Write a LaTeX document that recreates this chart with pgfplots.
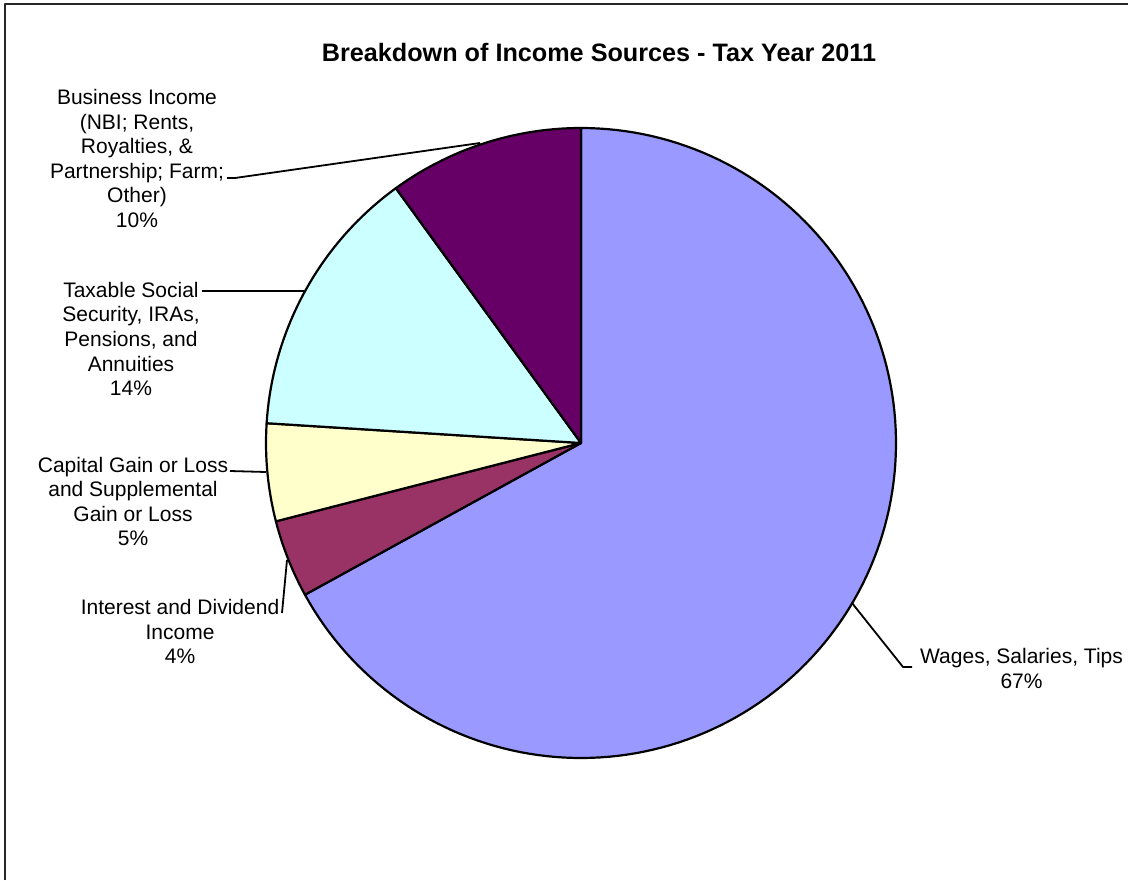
\documentclass[border=0pt]{standalone}
\usepackage{pgfplots}
\pgfplotsset{compat=1.18}
\usepackage{fontspec}
\setmainfont{Liberation Sans}
\definecolor{cWages}{HTML}{9999FF}
\definecolor{cInterest}{HTML}{993366}
\definecolor{cCapital}{HTML}{FFFFCC}
\definecolor{cSocial}{HTML}{CCFFFF}
\definecolor{cBusiness}{HTML}{660066}
% shares in percent
\def\sWages{67}
\def\sInterest{4}
\def\sCapital{5}
\def\sSocial{14}
\def\sBusiness{10}
\def\cx{581}
\def\cy{437}
\def\pieR{315}
\begin{document}
\begin{tikzpicture}
\pgfmathsetmacro\aA{90}
\pgfmathsetmacro\aB{\aA-3.6*\sWages}
\pgfmathsetmacro\aC{\aB-3.6*\sInterest}
\pgfmathsetmacro\aD{\aC-3.6*\sCapital}
\pgfmathsetmacro\aE{\aD-3.6*\sSocial}
\pgfmathsetmacro\aF{\aE-3.6*\sBusiness}
\begin{axis}[
  width=564pt, height=440pt, scale only axis,
  xmin=0, xmax=1128, ymin=0, ymax=880,
  hide axis, clip=false,
  every axis plot/.append style={line join=round},
]
\addplot[fill=cWages, draw=black, line width=1.1pt, domain=\aB:\aA, samples=150, variable=\t]
  ({\cx+\pieR*cos(\t)},{\cy+\pieR*sin(\t)}) -- (axis cs:\cx,\cy) -- cycle;
\addplot[fill=cInterest, draw=black, line width=1.1pt, domain=\aC:\aB, samples=20, variable=\t]
  ({\cx+\pieR*cos(\t)},{\cy+\pieR*sin(\t)}) -- (axis cs:\cx,\cy) -- cycle;
\addplot[fill=cCapital, draw=black, line width=1.1pt, domain=\aD:\aC, samples=20, variable=\t]
  ({\cx+\pieR*cos(\t)},{\cy+\pieR*sin(\t)}) -- (axis cs:\cx,\cy) -- cycle;
\addplot[fill=cSocial, draw=black, line width=1.1pt, domain=\aE:\aD, samples=40, variable=\t]
  ({\cx+\pieR*cos(\t)},{\cy+\pieR*sin(\t)}) -- (axis cs:\cx,\cy) -- cycle;
\addplot[fill=cBusiness, draw=black, line width=1.1pt, domain=\aF:\aE, samples=30, variable=\t]
  ({\cx+\pieR*cos(\t)},{\cy+\pieR*sin(\t)}) -- (axis cs:\cx,\cy) -- cycle;

% leader lines
\addplot[black, line width=0.9pt, mark=none] coordinates {(227,702) (235,702) (480,737)};
\addplot[black, line width=0.9pt, mark=none] coordinates {(202,589) (304,589)};
\addplot[black, line width=0.9pt, mark=none] coordinates {(230,409) (266,408)};
\addplot[black, line width=0.9pt, mark=none] coordinates {(282,267) (287,320)};
\addplot[black, line width=0.9pt, mark=none] coordinates {(852,277) (903,213) (912,213)};

% border
\addplot[black!85, line width=1pt, mark=none] coordinates {(5,0) (5,876) (1128,876)};

\begin{scope}[every node/.style={align=center, font=\fontsize{10.5}{12.3}\selectfont, inner sep=0pt}]
\node at (axis cs:137,721.5) {Business Income\\(NBI; Rents,\\Royalties, \&\\Partnership; Farm;\\Other)\\10\%};
\node at (axis cs:131,541) {Taxable Social\\Security, IRAs,\\Pensions, and\\Annuities\\14\%};
\node at (axis cs:133,378.5) {Capital Gain or Loss\\and Supplemental\\Gain or Loss\\5\%};
\node at (axis cs:180,248.5) {Interest and Dividend\\Income\\4\%};
\node at (axis cs:1021.5,211.5) {Wages, Salaries, Tips\\67\%};
\end{scope}
\node[font=\bfseries\fontsize{12.6}{15}\selectfont, inner sep=0pt] at (axis cs:599,828) {Breakdown of Income Sources - Tax Year 2011};
\end{axis}
\pgfresetboundingbox
\path (current axis.south west) rectangle (current axis.north east);
\end{tikzpicture}
\end{document}
